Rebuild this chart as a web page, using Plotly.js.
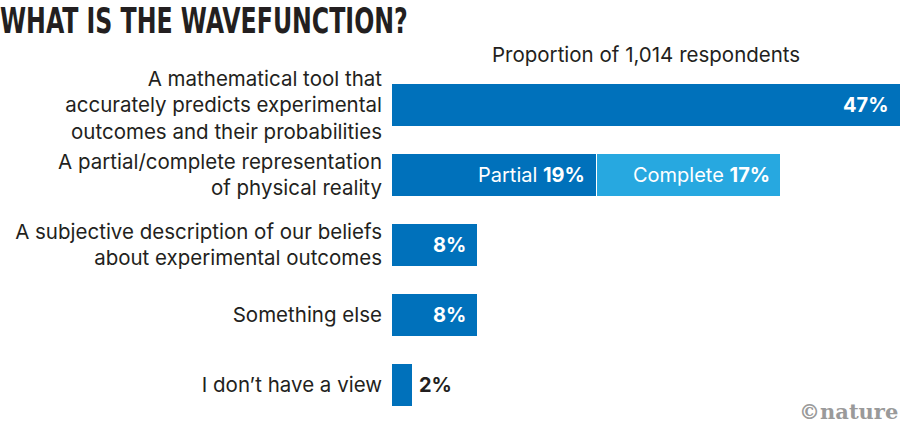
<!DOCTYPE html>
<html>
<head>
<meta charset="utf-8">
<script src="https://cdn.plot.ly/plotly-3.0.1.min.js"></script>
<style>
  html, body { margin: 0; padding: 0; background: #ffffff; }
  #chart { width: 900px; height: 428px; }
</style>
</head>
<body>
<div id="chart"></div>
<script>
// survey answers, top to bottom
const categories = [
  "A mathematical tool that<br>accurately predicts experimental<br>outcomes and their probabilities",
  "A partial/complete representation<br>of physical reality",
  "A subjective description of our beliefs<br>about experimental outcomes",
  "Something else",
  "I don\u2019t have a view"
];
// first segment (the partial share on the second row)
const mainShare = [47, 19, 8, 8, 2];
// second segment, only the "complete" share on row two
const completeShare = [null, 17, null, null, null];
const mainPrefix = ["", "Partial ", "", "", ""];
const completePrefix = ["", "Complete ", "", "", ""];

const darkBlue = "#0071bb";
const lightBlue = "#27a8e0";
const ink = "#231f20";
const labelFont = "Inter, 'Open Sans', sans-serif";

// bars
const traceMain = {
  type: "bar",
  orientation: "h",
  y: categories,
  x: mainShare,
  marker: { color: darkBlue, line: { color: "#ffffff", width: 1 } },
  hoverinfo: "skip"
};
const traceComplete = {
  type: "bar",
  orientation: "h",
  y: categories,
  x: completeShare,
  marker: { color: lightBlue, line: { color: "#ffffff", width: 1 } },
  hoverinfo: "skip"
};

// value labels, placed at the bar ends through the x axis
let annotations = [];
categories.forEach(function (cat, i) {
  let small = mainShare[i] < 5;
  annotations.push({
    x: mainShare[i], y: cat, xref: "x", yref: "y",
    text: mainPrefix[i] + "<b>" + mainShare[i] + "%</b>",
    showarrow: false,
    xanchor: small ? "left" : "right",
    xshift: small ? 4 : -10,
    font: { family: labelFont, size: 20, color: small ? ink : "#ffffff" }
  });
  if (completeShare[i] !== null) {
    annotations.push({
      x: mainShare[i] + completeShare[i], y: cat, xref: "x", yref: "y",
      text: completePrefix[i] + "<b>" + completeShare[i] + "%</b>",
      showarrow: false, xanchor: "right", xshift: -9,
      font: { family: labelFont, size: 20, color: "#ffffff" }
    });
  }
});

// header above the bars
annotations.push({
  x: 0.5, y: 1, xref: "paper", yref: "paper",
  text: "Proportion of 1,014 respondents",
  showarrow: false, xanchor: "center", yanchor: "bottom", yshift: 1,
  font: { family: labelFont, size: 20.5, color: ink }
});

// credit
annotations.push({
  x: 1, y: 0, xref: "paper", yref: "paper",
  text: "<b>\u00a9nature</b>",
  showarrow: false, xanchor: "right", yanchor: "bottom", yshift: -6,
  font: { family: "'DejaVu Serif', 'Liberation Serif', serif", size: 21, color: "#9a9a9a" }
});

const layout = {
  width: 900,
  height: 428,
  margin: { l: 391, r: 0, t: 70, b: 8 },
  paper_bgcolor: "#ffffff",
  plot_bgcolor: "#ffffff",
  barmode: "stack",
  bargap: 0.386,
  showlegend: false,
  title: {
    text: "<b>WHAT IS THE WAVEFUNCTION?</b>",
    x: 0, xref: "container", xanchor: "left",
    y: 1, yref: "container", yanchor: "top",
    pad: { t: 8 },
    font: { family: "'DejaVu Sans', sans-serif", size: 35, color: ink }
  },
  xaxis: { range: [0, 47], visible: false, fixedrange: true },
  yaxis: {
    type: "category",
    autorange: "reversed",
    showgrid: false, zeroline: false, showline: false,
    ticks: "",
    ticklabelstandoff: 8,
    tickfont: { family: labelFont, size: 20.5, color: ink },
    fixedrange: true
  },
  annotations: annotations
};

Plotly.newPlot("chart", [traceMain, traceComplete], layout, { displayModeBar: false, staticPlot: true })
  .then(function () {
    // squeeze the headline into the condensed width of the original
    let t = document.querySelector(".gtitle");
    if (!t) return;
    t.style.fontStretch = "condensed";
    let box = t.getBBox();
    let s = 408 / box.width;
    if (s < 1) {
      t.setAttribute("transform",
        "translate(" + box.x + ",0) scale(" + s + ",1) translate(" + (-box.x) + ",0)");
    }
  });
</script>
</body>
</html>
